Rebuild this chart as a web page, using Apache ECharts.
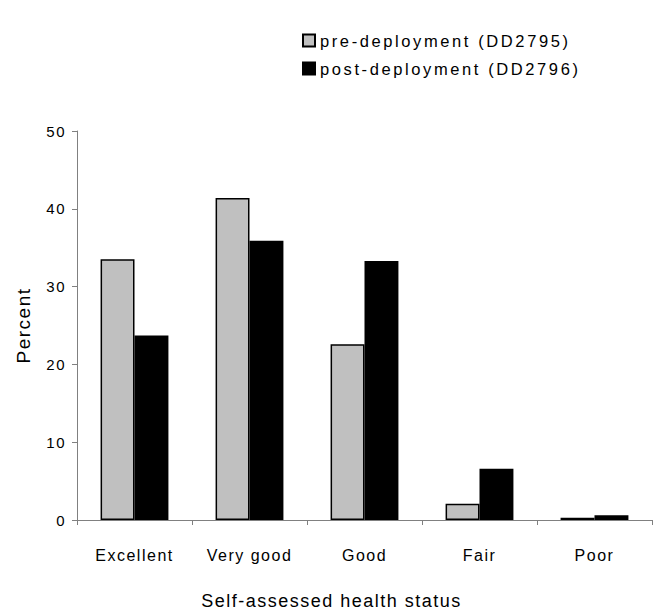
<!DOCTYPE html>
<html>
<head>
<meta charset="utf-8">
<script src="https://cdn.jsdelivr.net/npm/echarts@6/dist/echarts.min.js"></script>
<style>
  html, body { margin: 0; padding: 0; background: #fff; }
  #chart { width: 658px; height: 615px; }
  /* loose, evenly tracked lettering */
  #chart text { letter-spacing: 1.5px; }
  #chart text[style*="16.5px"] { letter-spacing: 2.6px; }
</style>
</head>
<body>
<div id="chart"></div>
<script>
// Self-assessed health status, percent of respondents
const categories = ['Excellent', 'Very good', 'Good', 'Fair', 'Poor'];
const preDeployment = [33.5, 41.4, 22.6, 2.1, 0.3];
const postDeployment = [23.7, 35.9, 33.3, 6.6, 0.6];
const seriesNames = ['pre-deployment (DD2795)', 'post-deployment (DD2796)'];

const FONT = '"Liberation Sans", Arial, sans-serif';

const chart = echarts.init(document.getElementById('chart'), null, { renderer: 'svg' });

chart.setOption({
  animation: false,
  backgroundColor: '#ffffff',
  textStyle: { fontFamily: FONT, color: '#000' },
  legend: {
    orient: 'vertical',
    left: 297,
    top: 27,
    itemWidth: 12,
    itemHeight: 12,
    itemGap: 11,
    icon: 'rect',
    textStyle: { fontFamily: FONT, fontSize: 16.5, color: '#000' },
    data: seriesNames
  },
  grid: { left: 77, right: 6, top: 131, bottom: 89, containLabel: false },
  xAxis: {
    type: 'category',
    data: categories,
    name: 'Self-assessed health status',
    nameLocation: 'middle',
    nameGap: 72,
    nameTextStyle: { fontFamily: FONT, fontSize: 18, color: '#000', padding: [0, 66, 0, 0] },
    axisLine: { lineStyle: { color: '#808080', width: 1 } },
    axisTick: { show: true, length: 5, lineStyle: { color: '#808080' } },
    axisLabel: { fontFamily: FONT, fontSize: 16, color: '#000', margin: 27 },
    splitLine: { show: false }
  },
  yAxis: {
    type: 'value',
    min: 0,
    max: 50,
    interval: 10,
    name: 'Percent',
    nameLocation: 'middle',
    nameGap: 44,
    nameTextStyle: { fontFamily: FONT, fontSize: 19, color: '#000' },
    axisLine: { show: true, lineStyle: { color: '#808080', width: 1 } },
    axisTick: { show: true, length: 5, lineStyle: { color: '#808080' } },
    axisLabel: { fontFamily: FONT, fontSize: 15, color: '#000', margin: 11 },
    splitLine: { show: false }
  },
  series: [
    {
      name: seriesNames[0],
      type: 'bar',
      data: preDeployment,
      barGap: '0%',
      barCategoryGap: '41%',
      itemStyle: { color: '#c0c0c0', borderColor: '#000', borderWidth: 1.5 }
    },
    {
      name: seriesNames[1],
      type: 'bar',
      data: postDeployment,
      barGap: '0%',
      barCategoryGap: '41%',
      itemStyle: { color: '#000', borderColor: '#000', borderWidth: 1.5 }
    }
  ]
});
</script>
</body>
</html>
